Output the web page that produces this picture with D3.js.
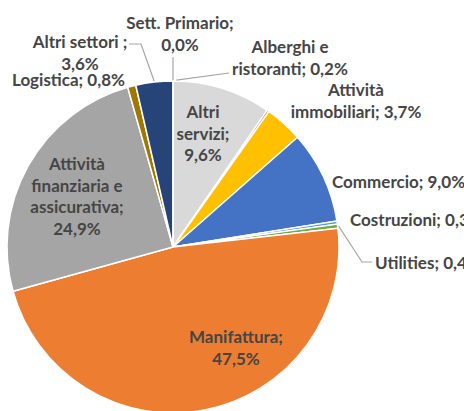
<!DOCTYPE html>
<html>
<head>
<meta charset="utf-8">
<script src="https://cdn.jsdelivr.net/npm/d3@7"></script>
<style>
  body { margin: 0; background: #fff; }
  svg { display: block; }
  .lbl { font-family: Lato, "Open Sans", sans-serif; font-weight: bold; font-size: 17px; fill: #454545; }
</style>
</head>
<body>
<div id="chart"></div>
<script>
// settori, in senso orario a partire dalle ore 12
const categories = ["Altri\nservizi", "Alberghi e\nristoranti", "Attività\nimmobiliari", "Commercio", "Costruzioni",
    "Utilities", "Manifattura", "Attività\nfinanziaria e\nassicurativa", "Logistica", "Altri settori ", "Sett. Primario"];
const values = [9.6, 0.2, 3.7, 9.0, 0.3, 0.4, 47.5, 24.9, 0.8, 3.6, 0.0];
const colors = ["#d9d9d9", "#9e480e", "#ffc000", "#4472c4", "#5b9bd5", "#70ad47", "#ed7d31", "#a5a5a5", "#a07800", "#264478", "#636363"];

// posizione etichette (centro della prima riga), a capo del valore
const labelLayout = [
    { x: 203, y: 112, anchor: "middle", valueBreak: true },
    { x: 290, y: 47, anchor: "middle", valueBreak: false },
    { x: 356, y: 90, anchor: "middle", valueBreak: false },
    { x: 332, y: 182, anchor: "start", valueBreak: false },
    { x: 350, y: 220, anchor: "start", valueBreak: false },
    { x: 375, y: 263, anchor: "start", valueBreak: false },
    { x: 236, y: 337, anchor: "middle", valueBreak: true },
    { x: 77, y: 164, anchor: "middle", valueBreak: true },
    { x: 12, y: 80, anchor: "start", valueBreak: false },
    { x: 80, y: 42, anchor: "middle", valueBreak: true },
    { x: 180, y: 23, anchor: "middle", valueBreak: true }
];

const width = 464, height = 411;
const cx = 173, cy = 247, radius = 166;
const lineH = 21.5;

const svg = d3.select("#chart").append("svg")
    .attr("width", width)
    .attr("height", height);

const g = svg.append("g").attr("transform", `translate(${cx},${cy})`);

const pie = d3.pie().sort(null).value(d => d);
const arcs = pie(values);
const arc = d3.arc().innerRadius(0).outerRadius(radius);

g.selectAll("path.slice")
    .data(arcs)
    .enter()
    .append("path")
    .attr("class", "slice")
    .attr("d", arc)
    .attr("fill", (d, i) => colors[i])
    .attr("stroke", "#fff")
    .attr("stroke-width", 1.5);

function edgePoint(angle, r) {
    return [cx + r * Math.sin(angle), cy - r * Math.cos(angle)];
}

// linee guida
const leaders = [
    { i: 10, angle: arcs[10].startAngle, via: null, to: [173, 57] },
    { i: 1, angle: arcs[10].endAngle + 0.02, via: null, to: [229, 73] },
    { i: 9, angle: (arcs[9].startAngle + arcs[9].endAngle) / 2, via: [141, 44], to: [129, 44] },
    { i: 5, angle: (arcs[5].startAngle + arcs[5].endAngle) / 2, via: [362, 262], to: [372, 262] }
];

const line = d3.line();
svg.selectAll("path.leader")
    .data(leaders)
    .enter()
    .append("path")
    .attr("class", "leader")
    .attr("d", d => {
        const pts = [edgePoint(d.angle, radius + 1)];
        if (d.via) pts.push(d.via);
        pts.push(d.to);
        return line(pts);
    })
    .attr("fill", "none")
    .attr("stroke", "#a6a6a6")
    .attr("stroke-width", 1.2);

const fmt = v => d3.format(".1f")(v).replace(".", ",") + "%";

const labels = svg.selectAll("text.lbl")
    .data(arcs)
    .enter()
    .append("text")
    .attr("class", "lbl")
    .attr("text-anchor", (d, i) => labelLayout[i].anchor)
    .attr("x", (d, i) => labelLayout[i].x)
    .attr("y", (d, i) => labelLayout[i].y + 6);

labels.each(function (d, i) {
    const lay = labelLayout[i];
    const parts = categories[i].split("\n");
    let rows;
    if (lay.valueBreak) {
        parts[parts.length - 1] += ";";
        rows = parts.concat([fmt(values[i])]);
    } else {
        parts[parts.length - 1] += "; " + fmt(values[i]);
        rows = parts;
    }
    d3.select(this).selectAll("tspan")
        .data(rows)
        .enter()
        .append("tspan")
        .attr("x", lay.x)
        .attr("dy", (r, k) => k === 0 ? 0 : lineH)
        .text(r => r);
});
</script>
</body>
</html>
